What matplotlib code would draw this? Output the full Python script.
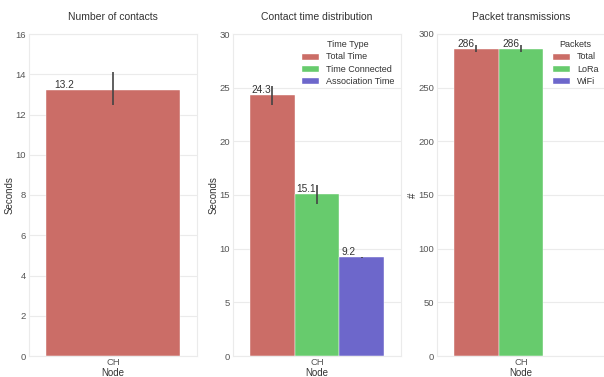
import colorsys
import numpy as np
import matplotlib
matplotlib.use("Agg")
import matplotlib.pyplot as plt
from matplotlib.patches import Patch

# ---- data ----
node = ["CH"]
contacts_mean = [13.2]
contacts_lo = [12.45]
contacts_hi = [14.12]

time_types = ["Total Time", "Time Connected", "Association Time"]
time_mean = [24.3, 15.1, 9.2]
time_lo = [23.35, 14.2, 9.15]
time_hi = [25.12, 15.96, 9.25]

packet_types = ["Total", "LoRa", "WiFi"]
packet_mean = [286, 286, np.nan]
packet_lo = [283, 283, np.nan]
packet_hi = [289.4, 289.4, np.nan]

titles = ["Number of contacts", "Contact time distribution", "Packet transmissions"]
ylabels = ["Seconds", "Seconds", "#"]
ylims = [16, 30, 300]
yticks = [np.arange(0, 17, 2), np.arange(0, 31, 5), np.arange(0, 301, 50)]

# ---- style ----
def hls_desat(n):
    cols = []
    for i in range(n):
        h = (0.01 + i / n) % 1
        r, g, b = colorsys.hls_to_rgb(h, 0.6, 0.65 * 0.75)
        cols.append((r, g, b))
    return cols

colors = hls_desat(3)
plt.rcParams['font.family'] = ['Liberation Sans', 'DejaVu Sans']
text_col = '#333333'
tick_col = '#555555'
grid_col = '#ebebeb'

fig = plt.figure(figsize=(6.04, 3.77), dpi=100)
W, H = 604, 377
lefts = [29, 233, 437]
aw, top, bot = 168, 34, 356
axes = [fig.add_axes([l / W, (H - bot) / H, aw / W, (bot - top) / H]) for l in lefts]

def style(ax, i):
    ax.set_xlim(-0.5, 0.5)
    ax.set_ylim(0, ylims[i])
    ax.set_yticks(yticks[i])
    ax.set_xticks([0])
    ax.set_xticklabels(node)
    ax.tick_params(axis='y', length=0, labelsize=6.8, labelcolor=tick_col, pad=2)
    ax.tick_params(axis='x', length=0, labelsize=6.8, labelcolor=tick_col, pad=1.5)
    ax.grid(True, axis='y', color=grid_col, lw=0.8)
    ax.set_axisbelow(True)
    for s in ax.spines.values():
        s.set_color(grid_col)
        s.set_linewidth(0.8)
    ax.set_title(titles[i], fontsize=7.5, color=text_col, pad=10)
    ax.set_ylabel(ylabels[i], fontsize=7, color=text_col, labelpad=0.5)
    ax.set_xlabel("Node", fontsize=7, color=text_col, labelpad=0.3)

def draw_group(ax, means, lo, hi, label_dx, fmt):
    n = len(means)
    w = 0.8 / n
    for j in range(n):
        m = means[j]
        if np.isnan(m):
            continue
        x0 = -0.4 + j * w
        ax.bar(x0, m, width=w, align='edge', color=colors[j], edgecolor='white', linewidth=0.3)
        xc = x0 + w / 2
        ax.plot([xc, xc], [lo[j], hi[j]], color='#444444', lw=1.2, solid_capstyle='butt')
        ax.text(x0 + label_dx, m, fmt.format(m), fontsize=7.3, color=text_col,
                ha='left', va='bottom')

style(axes[0], 0)
draw_group(axes[0], contacts_mean, contacts_lo, contacts_hi, 0.05, "{:.1f}")

style(axes[1], 1)
draw_group(axes[1], time_mean, time_lo, time_hi, 0.01, "{:.1f}")
h1 = [Patch(facecolor=colors[k], edgecolor='white') for k in range(3)]
leg = axes[1].legend(h1, time_types, title="Time Type", loc='upper right', frameon=False,
                     fontsize=6.5, title_fontsize=6.5, handlelength=2.0, handleheight=0.8,
                     labelspacing=0.35, borderaxespad=0.3)
for t in leg.get_texts():
    t.set_color(text_col)
leg.get_title().set_color(text_col)

style(axes[2], 2)
draw_group(axes[2], packet_mean, packet_lo, packet_hi, 0.02, "{:.0f}")
h2 = [Patch(facecolor=colors[k], edgecolor='white') for k in range(3)]
leg2 = axes[2].legend(h2, packet_types, title="Packets", loc='upper right', frameon=False,
                      fontsize=6.5, title_fontsize=6.5, handlelength=2.0, handleheight=0.8,
                      labelspacing=0.35, borderaxespad=0.3)
for t in leg2.get_texts():
    t.set_color(text_col)
leg2.get_title().set_color(text_col)

fig.savefig("out.png", dpi=100)
